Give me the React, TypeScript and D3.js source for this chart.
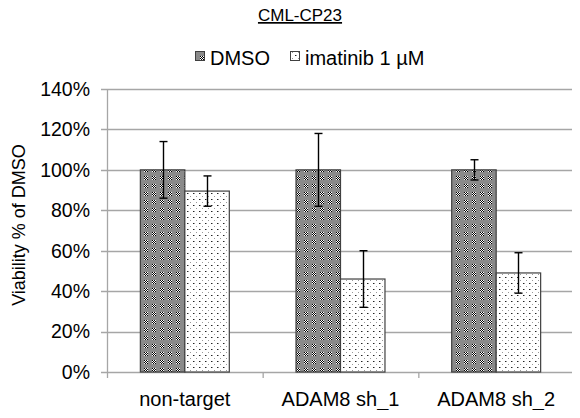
import React, { useEffect, useRef } from 'react';
import * as d3 from 'd3';

const categories = ['non-target', 'ADAM8 sh_1', 'ADAM8 sh_2'];
const seriesNames = ['DMSO', 'imatinib 1 µM'];
const dmso = [100, 100, 100];
const dmsoErr = [14, 18, 5];
const imatinib = [89.5, 46, 49];
const imatinibErr = [7.5, 14, 10];
const yTicks = [0, 20, 40, 60, 80, 100, 120, 140];

const W = 580;
const H = 418;
const font = 'Liberation Sans, Arial, sans-serif';

export default function App() {
  const ref = useRef<SVGSVGElement>(null);

  useEffect(() => {
    const svg = d3.select(ref.current);
    svg.selectAll('*').remove();

    const left = 107, right = 574, top = 89, bottom = 372;

    const defs = svg.append('defs');
    const p1 = defs.append('pattern').attr('id', 'pDmso').attr('patternUnits', 'userSpaceOnUse')
      .attr('width', 8).attr('height', 8);
    p1.append('rect').attr('width', 8).attr('height', 8).attr('fill', '#8a8a8a');
    for (let i = 0; i < 4; i++) {
      for (let j = 0; j < 4; j++) {
        p1.append('rect').attr('x', i).attr('y', j).attr('width', 1).attr('height', 1)
          .attr('fill', (i + j) % 2 === 0 ? '#000' : '#fff');
      }
    }
    const p2 = defs.append('pattern').attr('id', 'pIma').attr('patternUnits', 'userSpaceOnUse')
      .attr('width', 6).attr('height', 6);
    p2.append('rect').attr('width', 6).attr('height', 6).attr('fill', '#fff');
    p2.append('rect').attr('x', 1).attr('y', 1).attr('width', 1).attr('height', 1).attr('fill', '#222');
    p2.append('rect').attr('x', 2).attr('y', 1).attr('width', 1).attr('height', 1).attr('fill', '#999');
    p2.append('rect').attr('x', 4).attr('y', 4).attr('width', 1).attr('height', 1).attr('fill', '#999');

    const y = d3.scaleLinear().domain([0, 140]).range([bottom, top]);
    const x = d3.scaleBand().domain(categories).range([left, right]);
    const inner = d3.scaleBand().domain(seriesNames).range([0, x.bandwidth()]).paddingOuter(0.75);

    // gridlines
    svg.append('g').selectAll('line').data(yTicks.slice(1)).enter().append('line')
      .attr('x1', left - 6).attr('x2', right)
      .attr('y1', d => Math.round(y(d)) + 0.5).attr('y2', d => Math.round(y(d)) + 0.5)
      .attr('stroke', '#a6a6a6').attr('stroke-width', 1.3);

    // axes
    svg.append('line').attr('x1', left + 0.5).attr('x2', left + 0.5).attr('y1', top).attr('y2', bottom)
      .attr('stroke', '#a6a6a6').attr('stroke-width', 1.3);
    svg.append('line').attr('x1', left - 6).attr('x2', right).attr('y1', bottom + 0.5).attr('y2', bottom + 0.5)
      .attr('stroke', '#a6a6a6').attr('stroke-width', 1.3);
    svg.append('g').selectAll('line').data([...categories.map(c => x(c)!), right]).enter().append('line')
      .attr('x1', d => d + 0.5).attr('x2', d => d + 0.5).attr('y1', bottom).attr('y2', bottom + 6)
      .attr('stroke', '#a6a6a6').attr('stroke-width', 1.3);

    svg.append('g').selectAll('text').data(yTicks).enter().append('text')
      .attr('x', left - 17).attr('y', d => y(d)).attr('dy', '0.35em')
      .attr('text-anchor', 'end').attr('font-family', font).attr('font-size', 19.5)
      .text(d => d + '%');

    svg.append('g').selectAll('text').data(categories).enter().append('text')
      .attr('x', d => x(d)! + x.bandwidth() / 2).attr('y', 406)
      .attr('text-anchor', 'middle').attr('font-family', font).attr('font-size', 20)
      .text(d => d);

    svg.append('text').attr('transform', `translate(25,225) rotate(-90)`)
      .attr('text-anchor', 'middle').attr('font-family', font).attr('font-size', 18)
      .text('Viability % of DMSO');

    const series = [
      { name: seriesNames[0], vals: dmso, errs: dmsoErr, fill: 'url(#pDmso)' },
      { name: seriesNames[1], vals: imatinib, errs: imatinibErr, fill: 'url(#pIma)' },
    ];

    series.forEach(s => {
      const g = svg.append('g');
      g.selectAll('rect').data(categories).enter().append('rect')
        .attr('x', (c) => x(c)! + inner(s.name)!)
        .attr('y', (c, i) => y(s.vals[i]))
        .attr('width', inner.bandwidth())
        .attr('height', (c, i) => bottom - y(s.vals[i]))
        .attr('fill', s.fill).attr('stroke', '#404040').attr('stroke-width', 1.2);
      categories.forEach((c, i) => {
        const cx = Math.round(x(c)! + inner(s.name)! + inner.bandwidth() / 2) + 0.5;
        const y1 = y(s.vals[i] + s.errs[i]);
        const y2 = y(s.vals[i] - s.errs[i]);
        g.append('line').attr('x1', cx).attr('x2', cx).attr('y1', y1).attr('y2', y2)
          .attr('stroke', '#000').attr('stroke-width', 1.4);
        [y1, y2].forEach(yy => g.append('line').attr('x1', cx - 4).attr('x2', cx + 4)
          .attr('y1', yy).attr('y2', yy).attr('stroke', '#000').attr('stroke-width', 1.4));
      });
    });

    // title
    svg.append('text').attr('x', 300).attr('y', 21).attr('text-anchor', 'middle')
      .attr('font-family', font).attr('font-size', 17).attr('text-decoration', 'underline')
      .text('CML-CP23');

    // legend
    const lg = svg.append('g');
    const items = [
      { name: seriesNames[0], fill: 'url(#pDmso)', x: 195 },
      { name: seriesNames[1], fill: 'url(#pIma)', x: 290 },
    ];
    items.forEach(it => {
      lg.append('rect').attr('x', it.x + 0.5).attr('y', 51.5).attr('width', 9).attr('height', 9)
        .attr('fill', it.fill).attr('stroke', '#404040').attr('stroke-width', 1);
      lg.append('text').attr('x', it.x + 15).attr('y', 65).attr('font-family', font)
        .attr('font-size', 20).text(it.name);
    });
  }, []);

  return <svg ref={ref} width={W} height={H} style={{ display: 'block', margin: '-8px' }} />;
}
